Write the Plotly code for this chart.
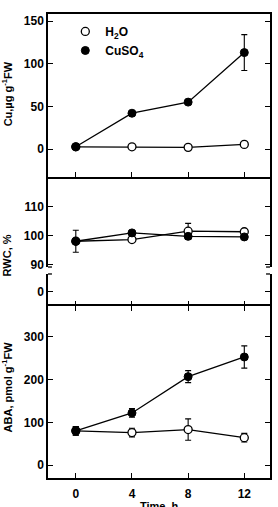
import plotly.graph_objects as go

time_h = [0, 4, 8, 12]

cu_h2o = [2.7, 2.7, 2.0, 5.5]
cu_h2o_err = [0, 0, 0, 0]
cu_cuso4 = [2.7, 42, 55, 113]
cu_cuso4_err = [0, 0, 0, 21]

rwc_h2o = [98.0, 98.6, 101.5, 101.3]
rwc_h2o_err = [0, 0, 2.7, 0]
rwc_cuso4 = [98.0, 100.9, 99.7, 99.5]
rwc_cuso4_err = [3.8, 0, 1.0, 0]

aba_h2o = [80, 76, 83, 64]
aba_h2o_err = [10, 10, 25, 10]
aba_cuso4 = [80, 122, 207, 253]
aba_cuso4_err = [10, 10, 14, 26]

x_ticks = [0, 4, 8, 12]
cu_ticks = [0, 50, 100, 150]
rwc_ticks = [90, 100, 110]
rwc_low_ticks = [0]
aba_ticks = [0, 100, 200, 300]

FONT = "Liberation Sans"
BLACK = "black"

open_marker = dict(symbol="circle", size=8, color="white", line=dict(color=BLACK, width=1.3))
filled_marker = dict(symbol="circle", size=8, color=BLACK, line=dict(color=BLACK, width=1))
line_style = dict(color=BLACK, width=1.3)


def err(arr):
    return dict(type="data", array=arr, color=BLACK, thickness=1.1, width=3)


fig = go.Figure()

panels = [
    ("x", "y", cu_h2o, cu_h2o_err, cu_cuso4, cu_cuso4_err),
    ("x2", "y2", rwc_h2o, rwc_h2o_err, rwc_cuso4, rwc_cuso4_err),
    ("x4", "y4", aba_h2o, aba_h2o_err, aba_cuso4, aba_cuso4_err),
]
for xa, ya, h, he, c, ce in panels:
    fig.add_trace(go.Scatter(x=time_h, y=h, error_y=err(he), mode="lines+markers",
                             marker=open_marker, line=line_style, xaxis=xa, yaxis=ya,
                             showlegend=False, cliponaxis=False))
    fig.add_trace(go.Scatter(x=time_h, y=c, error_y=err(ce), mode="lines+markers",
                             marker=filled_marker, line=line_style, xaxis=xa, yaxis=ya,
                             showlegend=False, cliponaxis=False))

# empty trace for the lower (broken) RWC axis
fig.add_trace(go.Scatter(x=[], y=[], xaxis="x3", yaxis="y3", showlegend=False))

# legend-only traces
fig.add_trace(go.Scatter(x=[None], y=[None], mode="markers", marker=open_marker,
                         name="H<sub>2</sub>O"))
fig.add_trace(go.Scatter(x=[None], y=[None], mode="markers", marker=filled_marker,
                         name="CuSO<sub>4</sub>"))

tickfont = dict(family=FONT, size=12, color=BLACK, weight="bold")
xr = [-1.98, 13.83]

common_x = dict(range=xr, tickvals=x_ticks, showgrid=False, zeroline=False,
                linecolor=BLACK, linewidth=1.5, tickcolor=BLACK, ticklen=5, tickwidth=1.3,
                tickfont=tickfont)
common_y = dict(showgrid=False, zeroline=False, showline=True, mirror="ticks",
                linecolor=BLACK, linewidth=1.5, ticks="inside", tickcolor=BLACK,
                ticklen=5, tickwidth=1.3, tickfont=tickfont)

fig.update_layout(
    width=278, height=507,
    margin=dict(l=48, r=6, t=14, b=29),
    paper_bgcolor="white", plot_bgcolor="white",
    xaxis=dict(common_x, anchor="y", showline=True, mirror=True, ticks="inside",
               showticklabels=False),
    yaxis=dict(common_y, domain=[0.6487, 1.0], range=[-32.7, 158.2], tickvals=cu_ticks),
    xaxis2=dict(common_x, anchor="y2", matches="x", showline=False, ticks="",
                showticklabels=False),
    yaxis2=dict(common_y, domain=[0.4547, 0.6487], range=[89.06, 120.3], tickvals=rwc_ticks),
    xaxis3=dict(common_x, anchor="y3", matches="x", showline=False, ticks="inside",
                showticklabels=False),
    yaxis3=dict(common_y, domain=[0.3707, 0.4397], range=[-4.97, 6.15], tickvals=rwc_low_ticks),
    xaxis4=dict(common_x, anchor="y4", matches="x", showline=True, mirror="ticks",
                ticks="inside", showticklabels=True, ticklabelstandoff=4),
    yaxis4=dict(common_y, domain=[0.0, 0.3707], range=[-30.4, 372.4], tickvals=aba_ticks),
    legend=dict(x=0.078, y=0.9936, xanchor="left", yanchor="top",
                bgcolor="rgba(0,0,0,0)", font=dict(family=FONT, size=12, color=BLACK, weight="bold"),
                itemwidth=30, tracegroupgap=0),
    showlegend=True,
)

title_font = dict(family=FONT, size=11, color=BLACK, weight="bold")
annots = [
    ("Cu,µg g<sup>-1</sup>FW", 0.8276),
    ("RWC, %", 0.4806),
    ("ABA, pmol g<sup>-1</sup>FW", 0.196),
]
for txt, yy in annots:
    fig.add_annotation(text=txt, xref="paper", yref="paper", x=-0.183, y=yy,
                       xanchor="center", yanchor="middle", textangle=-90,
                       showarrow=False, font=title_font)
fig.add_annotation(text="Time, h", xref="paper", yref="paper", x=0.5, y=-0.043,
                   xanchor="center", yanchor="top", showarrow=False, font=title_font)

# small caps at the axis break
cap = 4 / 224
for y0 in [0.4547, 0.4397]:
    fig.add_shape(type="line", xref="paper", yref="paper", x0=0, x1=cap, y0=y0, y1=y0,
                  line=dict(color=BLACK, width=1.3))
    fig.add_shape(type="line", xref="paper", yref="paper", x0=1 - cap, x1=1, y0=y0, y1=y0,
                  line=dict(color=BLACK, width=1.3))

fig.write_html("out.html")
